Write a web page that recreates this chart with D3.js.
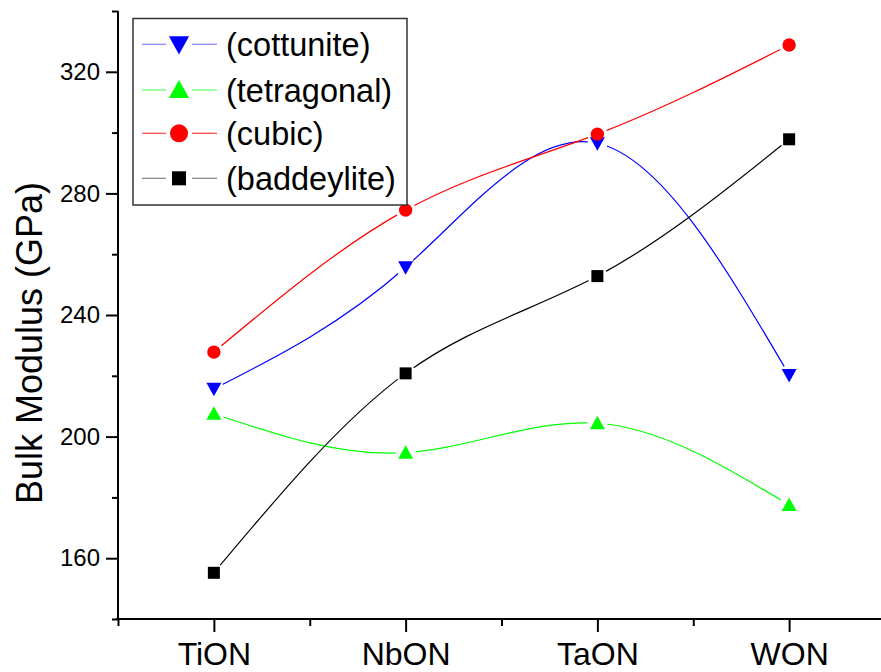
<!DOCTYPE html>
<html>
<head>
<meta charset="utf-8">
<script src="https://cdn.jsdelivr.net/npm/d3@7"></script>
<style>
  body { margin: 0; background: #fff; }
  svg { display: block; font-family: "Liberation Sans", Arial, sans-serif; }
</style>
</head>
<body>
<svg id="chart" width="881" height="672"></svg>
<script>
// Data
const compounds = ["TiON", "NbON", "TaON", "WON"];
const cottunite = [215.7, 255.7, 296.5, 220.3];
const tetragonal = [207.5, 194.7, 204.4, 177.5];
const cubic = [227.8, 274.5, 299.5, 328.8];
const baddeylite = [155.2, 220.8, 252.8, 297.8];
const majorTicks = [160, 200, 240, 280, 320];
const minorTicks = [140, 180, 220, 260, 300, 340];

const series = [
  { name: "(cottunite)", values: cottunite, color: "#0000ff", legendLine: "#8080ff", shape: "down" },
  { name: "(tetragonal)", values: tetragonal, color: "#00ff00", legendLine: "#60ff60", shape: "up" },
  { name: "(cubic)", values: cubic, color: "#ff0000", legendLine: "#ff4040", shape: "circle" },
  { name: "(baddeylite)", values: baddeylite, color: "#000000", legendLine: "#808080", shape: "square" }
];

const svg = d3.select("#chart");
const plotLeft = 118, plotRight = 885, plotTop = 11, plotBottom = 619;

const x = d3.scalePoint().domain(compounds).range([plotLeft, plotRight]).padding(0.5);
const xMinor = d3.scaleLinear().domain([0, compounds.length]).range([plotLeft, plotRight]);
const y = d3.scaleLinear().domain([140, 340]).range([plotBottom, plotTop]);

// Marker drawing, k = size factor
function marker(sel, shape, color, k) {
  if (shape === "circle") {
    sel.append("circle").attr("r", 6.7 * k).attr("fill", color);
  } else if (shape === "square") {
    const h = (k > 1 ? 7 : 6);
    sel.append("rect").attr("x", -h).attr("y", -h).attr("width", 2 * h).attr("height", 2 * h).attr("fill", color);
  } else if (shape === "up") {
    sel.append("path").attr("d", `M0,${-7.5 * k}L${7.5 * k},${6 * k}L${-7.5 * k},${6 * k}Z`).attr("fill", color);
  } else {
    sel.append("path").attr("d", `M0,${7.5 * k}L${7.5 * k},${-6 * k}L${-7.5 * k},${-6 * k}Z`).attr("fill", color);
  }
}

const defs = svg.append("defs");
const line = d3.line()
  .x((d, i) => x(compounds[i]))
  .y(d => y(d))
  .curve(d3.curveNatural);

// Lines, with a gap around each symbol
series.forEach((s, k) => {
  const m = defs.append("mask").attr("id", "gap" + k).attr("maskUnits", "userSpaceOnUse")
    .attr("x", 0).attr("y", 0).attr("width", 881).attr("height", 672);
  m.append("rect").attr("width", 881).attr("height", 672).attr("fill", "#fff");
  s.values.forEach((v, i) => {
    m.append("circle").attr("cx", x(compounds[i])).attr("cy", y(v)).attr("r", 10).attr("fill", "#000");
  });
  svg.append("path")
    .datum(s.values)
    .attr("d", line)
    .attr("fill", "none")
    .attr("stroke", s.color)
    .attr("stroke-width", 1.2)
    .attr("mask", `url(#gap${k})`);
});

series.forEach(s => {
  s.values.forEach((v, i) => {
    const g = svg.append("g").attr("transform", `translate(${x(compounds[i])},${y(v)})`);
    marker(g, s.shape, s.color, 1);
  });
});

// Y axis
const yAxis = svg.append("g").attr("transform", `translate(${plotLeft},0)`)
  .call(d3.axisLeft(y).tickValues(majorTicks).tickSize(12).tickPadding(6).tickFormat(d3.format("d")));
svg.append("g").attr("transform", `translate(${plotLeft},0)`)
  .call(d3.axisLeft(y).tickValues(minorTicks).tickSize(6).tickFormat(""))
  .select(".domain").remove();
yAxis.select(".domain").attr("stroke-width", 2).attr("d", `M0,${plotTop}V${plotBottom}`);
yAxis.selectAll(".tick text").attr("font-size", 24).attr("font-family", "Liberation Sans, Arial, sans-serif").attr("fill", "#000");

// X axis
const xAxis = svg.append("g").attr("transform", `translate(0,${plotBottom})`)
  .call(d3.axisBottom(x).tickSize(13).tickPadding(10));
svg.append("g").attr("transform", `translate(0,${plotBottom})`)
  .call(d3.axisBottom(xMinor).tickValues(d3.range(compounds.length + 1)).tickSize(7).tickFormat(""))
  .select(".domain").remove();
xAxis.select(".domain").attr("stroke-width", 2).attr("d", `M${plotLeft - 2},0H${plotRight}`);
xAxis.selectAll(".tick text").attr("font-size", 32).attr("font-family", "Liberation Sans, Arial, sans-serif").attr("fill", "#000");
svg.selectAll(".tick line").attr("stroke-width", 2);

// Y axis title
svg.append("text")
  .attr("transform", "translate(42,343) rotate(-90)")
  .attr("text-anchor", "middle")
  .attr("font-size", 36)
  .text("Bulk Modulus (GPa)");

// Legend
const legend = svg.append("g");
legend.append("rect")
  .attr("x", 133).attr("y", 18.5).attr("width", 274).attr("height", 186.5)
  .attr("fill", "#fff").attr("stroke", "#333").attr("stroke-width", 1.5);
const rowY = [44.3, 90, 133.3, 178.3];
series.forEach((s, k) => {
  const g = legend.append("g").attr("transform", `translate(0,${rowY[k]})`);
  g.append("line").attr("x1", 142).attr("x2", 166).attr("stroke", s.legendLine).attr("stroke-width", 1.2);
  g.append("line").attr("x1", 192).attr("x2", 217).attr("stroke", s.legendLine).attr("stroke-width", 1.2);
  marker(g.append("g").attr("transform", "translate(179,0)"), s.shape, s.color, 1.35);
  g.append("text").attr("x", 226).attr("y", 12).attr("font-size", 32.5).text(s.name);
});
</script>
</body>
</html>
